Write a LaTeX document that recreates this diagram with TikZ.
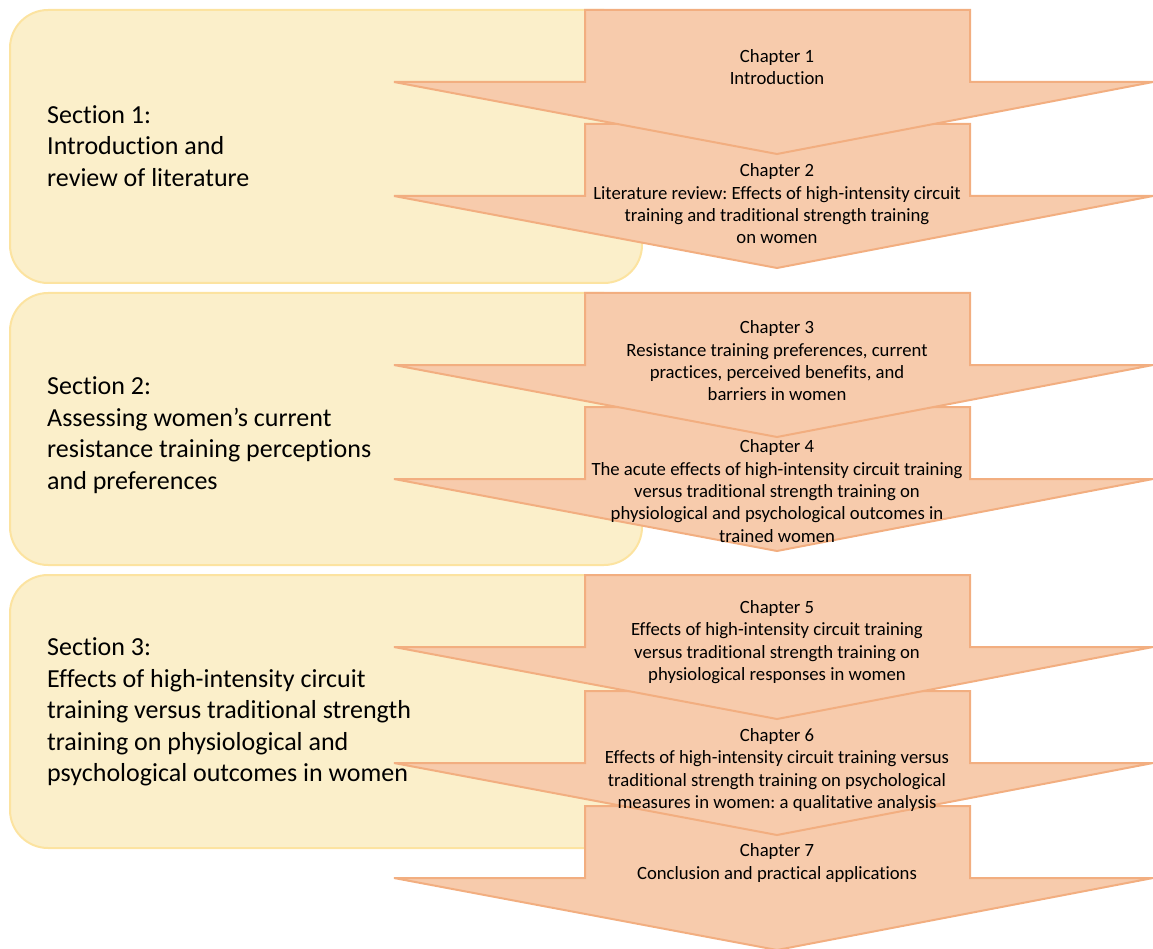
\documentclass[tikz,border=0pt]{standalone}
\usepackage{fontspec}
\setmainfont{Carlito}[Ligatures=NoCommon]
\usetikzlibrary{calc}
\definecolor{secfill}{HTML}{FBEFCA}
\definecolor{secline}{HTML}{FCE3A0}
\definecolor{chapfill}{HTML}{F7CBAC}
\definecolor{chapline}{HTML}{F2AE80}
\def\headh{72}
\frenchspacing

\tikzset{
	section box/.style={fill=secfill, draw=secline, line width=2pt, rounded corners=38pt},
	chapter arrow/.style={fill=chapfill, draw=chapline, line width=2pt, line join=miter},
	section text/.style={anchor=west, align=left, inner sep=0pt, font=\fontsize{26}{31.6}\selectfont},
	chapter text/.style={align=center, inner sep=0pt, font=\fontsize{18.7}{22.3}\selectfont},
}

\begin{document}
\begin{tikzpicture}[x=1pt, y=-1pt, line cap=round, line join=round]
		\useasboundingbox (0,0) rectangle (1153,949);
		
		%Sections
		\draw[section box] (10,10) rectangle (642,283);
		\draw[section box] (10,293) rectangle (642,565);
		\draw[section box] (10,575) rectangle (642,848);
		
		%Arrows, last chapter first so each one lies over the next
		\foreach \ytop in {806,691,575,407,293,124,10}
		{
			\draw[chapter arrow] (585,\ytop) -- (970,\ytop) -- (970,\ytop+\headh)
				-- (1153,\ytop+\headh) -- (777,\ytop+2*\headh) -- (394,\ytop+\headh)
				-- (585,\ytop+\headh) -- cycle;
		}
		
		%Section nodes
		\node[section text] (sec1) at (47,146) {Section 1:\\Introduction and\\review of literature};
		\node[section text] (sec2) at (47,435) {Section 2:\\Assessing women’s current\\resistance training perceptions\\and preferences};
		\node[section text] (sec3) at (47,712) {Section 3:\\Effects of high-intensity circuit\\training versus traditional strength\\training on physiological and\\psychological outcomes in women};
		
		%Chapter nodes
		\node[chapter text] (ch1) at (777,67) {Chapter 1\\Introduction};
		\node[chapter text] (ch2) at (777,204) {Chapter 2\\Literature review: Effects of high-intensity circuit\\training and traditional strength training\\on women};
		\node[chapter text] (ch3) at (777,361) {Chapter 3\\Resistance training preferences, current\\practices, perceived benefits, and\\barriers in women};
		\node[chapter text] (ch4) at (777,491) {Chapter 4\\The acute effects of high-intensity circuit training\\versus traditional strength training on\\physiological and psychological outcomes in\\trained women};
		\node[chapter text] (ch5) at (777,642) {Chapter 5\\Effects of high-intensity circuit training\\versus traditional strength training on\\physiological responses in women};
		\node[chapter text] (ch6) at (777,770) {Chapter 6\\Effects of high-intensity circuit training versus\\traditional strength training on psychological\\measures in women: a qualitative analysis};
		\node[chapter text] (ch7) at (777,863) {Chapter 7\\Conclusion and practical applications};
		
	\end{tikzpicture}
\end{document}
